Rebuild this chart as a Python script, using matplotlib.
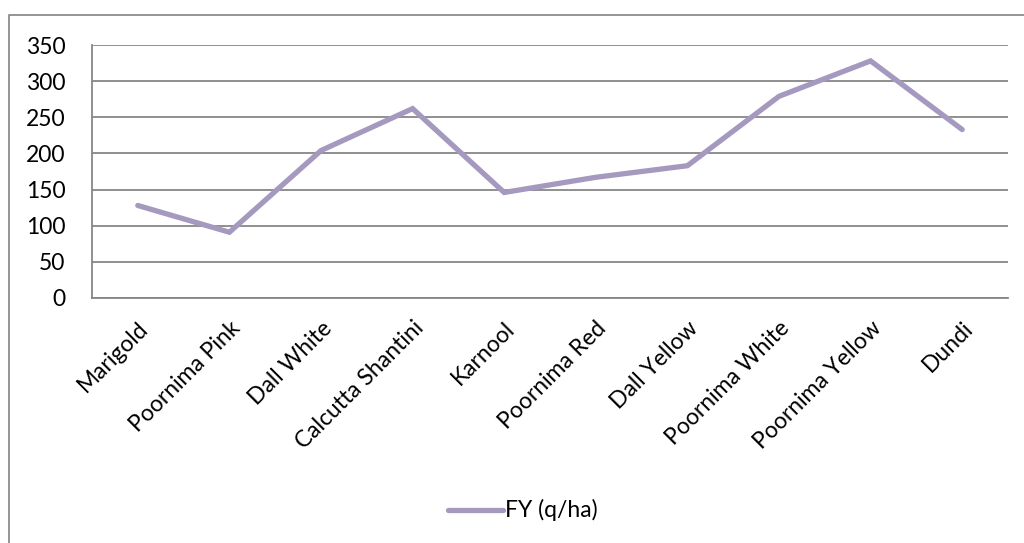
import matplotlib
matplotlib.use("Agg")
import matplotlib.pyplot as plt
from matplotlib.lines import Line2D

categories = ["Marigold", "Poornima Pink", "Dall White", "Calcutta Shantini", "Karnool",
              "Poornima Red", "Dall Yellow", "Poornima White", "Poornima Yellow", "Dundi"]
fy_values = [128, 91, 204, 262, 146, 167, 183, 279, 328, 233]
series_name = "FY (q/ha)"
y_ticks = [0, 50, 100, 150, 200, 250, 300, 350]

plt.rcParams['font.family'] = ['Lato', 'DejaVu Sans']

W, H = 1024, 543
fig = plt.figure(figsize=(W / 100, H / 100), dpi=100)
ax = fig.add_axes([92 / W, 1 - 298 / H, (1008 - 92) / W, (298 - 45) / H])

line_color = "#A599BF"
grid_color = "#878787"
FS = 16.5

x = list(range(len(categories)))
ax.plot(x, fy_values, color=line_color, lw=3.8, solid_capstyle='round',
        solid_joinstyle='miter', zorder=3)

ax.set_xlim(-0.5, len(categories) - 0.5)
ax.set_ylim(0, 350)
ax.set_yticks(y_ticks)
ax.set_yticklabels([str(v) for v in y_ticks], fontsize=FS)
ax.yaxis.grid(True, color=grid_color, lw=1.3)
ax.set_axisbelow(True)
ax.tick_params(axis='y', length=0, pad=19)
ax.tick_params(axis='x', length=0, pad=14)

ax.set_xticks(x)
ax.set_xticklabels(categories, rotation=45, ha='right', va='top',
                   rotation_mode='anchor', fontsize=FS)

for s in ['top', 'right']:
    ax.spines[s].set_visible(False)
for s in ['left', 'bottom']:
    ax.spines[s].set_color(grid_color)
    ax.spines[s].set_linewidth(1.3)

# legend
fig.lines.append(Line2D([448 / W, 503 / W], [1 - 510 / H, 1 - 510 / H],
                        transform=fig.transFigure, color=line_color, lw=3.8,
                        solid_capstyle='round'))
fig.text(505 / W, 1 - 510 / H, series_name, fontsize=FS, va='center', ha='left')

# outer frame
fig.lines.append(Line2D([9 / W, 9 / W, 1.0], [0.0, 1 - 15 / H, 1 - 15 / H],
                        transform=fig.transFigure, color="#8C8C8C", lw=1.3))

fig.savefig("out.png", dpi=100)
